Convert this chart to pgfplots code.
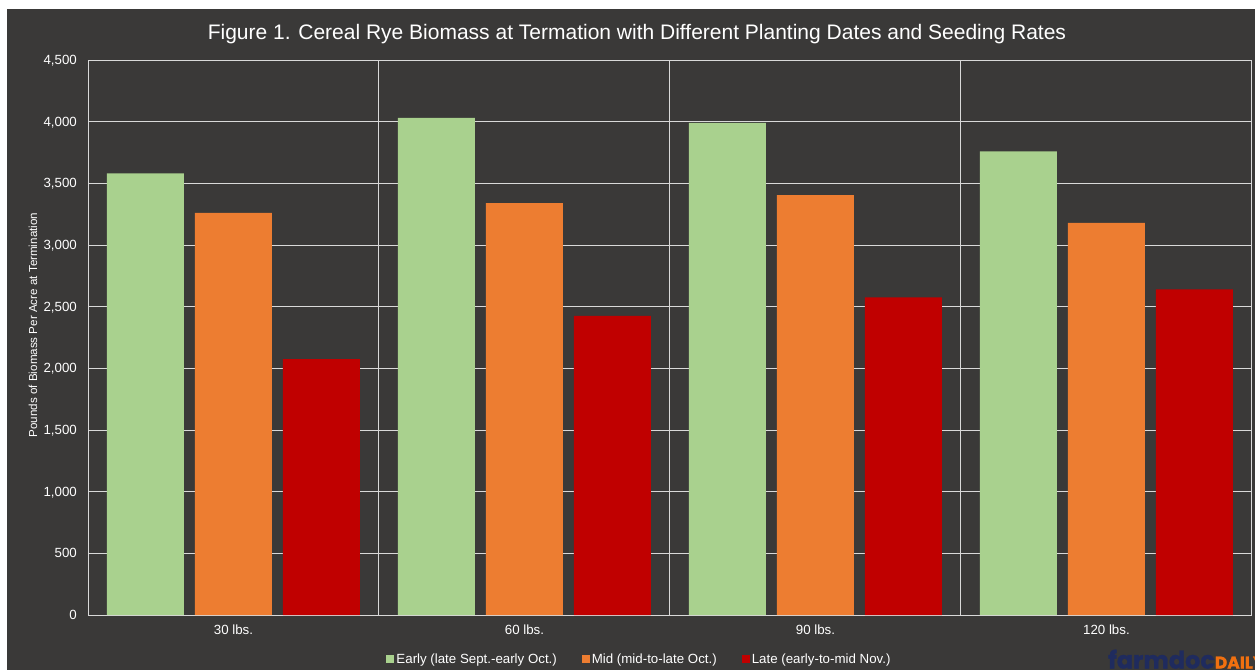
\documentclass[border=0pt]{standalone}
\usepackage{fontspec}
\setmainfont{Liberation Sans}
\newfontfamily\wmfont{Poppins}[BoldFeatures={FakeBold=1.2}]
\usepackage{pgfplots}
\pgfplotsset{compat=1.18}
\definecolor{bg}{HTML}{3A3938}
\definecolor{gridc}{HTML}{D9D9D9}
\definecolor{cearly}{HTML}{A9D18E}
\definecolor{cmid}{HTML}{ED7D31}
\definecolor{clate}{HTML}{C00000}
\definecolor{navy}{HTML}{1F2B5E}
\definecolor{wmorange}{HTML}{F07010}
\begin{document}
\begin{tikzpicture}
\fill[white] (0pt,0pt) rectangle (1255pt,670pt);
\fill[bg] (7pt,0pt) rectangle (1255pt,661pt);
\begin{axis}[
  at={(88pt,55pt)}, anchor=south west,
  width=1164pt, height=555pt, scale only axis,
  xmin=0.5, xmax=4.5, ymin=0, ymax=4500,
  xtick={1,2,3,4}, xticklabels={30 lbs.,60 lbs.,90 lbs.,120 lbs.},
  minor xtick={1.5,2.5,3.5},
  ytick={0,500,...,4500},
  ymajorgrids, xminorgrids,
  major tick length=0pt, minor tick length=0pt,
  grid style={gridc, line width=1pt},
  minor grid style={gridc, line width=1pt},
  axis line style={gridc, line width=1pt},
  ybar=11pt, bar width=77pt,
  tick label style={text=white, font=\fontsize{13.3}{16}\selectfont, inner sep=0pt},
  xticklabel style={anchor=north, yshift=-10pt},
  yticklabel style={anchor=east, xshift=-11pt, text depth=0pt},
  /pgf/number format/1000 sep={,},
  /pgf/number format/assume math mode=true,
  title={Figure 1. Cereal Rye Biomass at Termation with Different Planting Dates and Seeding Rates},
  title style={at={(axis description cs:0.4716,1.027)}, anchor=base, text=white, inner sep=0pt, font=\fontsize{21}{24}\selectfont},
  ylabel={Pounds of Biomass Per Acre at Termination},
  every axis y label/.style={at={(axis description cs:-0.04725,0.5225)}, rotate=90, anchor=center, text=white, inner sep=0pt, font=\fontsize{11.6}{14}\selectfont},
  legend columns=3,
  legend style={at={(axis description cs:0.4738,-0.0793)}, anchor=center, draw=none, fill=none, text=white, font=\fontsize{13.3}{16}\selectfont, /tikz/every even column/.append style={column sep=23pt}, nodes={inner sep=2pt}},
  legend image code/.code={\fill[#1] (0pt,-4pt) rectangle (8pt,4pt);},
]
\addplot[fill=cearly, draw=none] coordinates {(1,3580) (2,4030) (3,3990) (4,3760)};
\addplot[fill=cmid, draw=none] coordinates {(1,3260) (2,3340) (3,3405) (4,3180)};
\addplot[fill=clate, draw=none] coordinates {(1,2075) (2,2425) (3,2575) (4,2640)};
\legend{Early (late Sept.-early Oct.),Mid (mid-to-late Oct.),Late (early-to-mid Nov.)}
\end{axis}
\begin{scope}
\clip (7pt,0pt) rectangle (1255pt,661pt);
\node[anchor=base west, inner sep=0pt] at (1108pt,1.5pt) {\wmfont\bfseries\fontsize{24}{24}\selectfont\color{navy}farmdoc\fontsize{17}{17}\selectfont\color{wmorange}DAILY};
\end{scope}
\pgfresetboundingbox
\useasboundingbox (0pt,0pt) rectangle (1255pt,670pt);
\end{tikzpicture}
\end{document}
